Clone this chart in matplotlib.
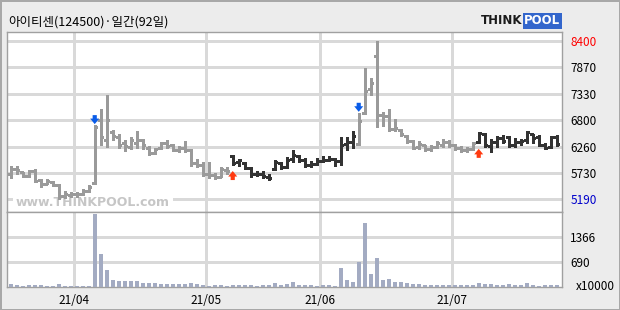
import numpy as np
import matplotlib
matplotlib.use('Agg')
import matplotlib.pyplot as plt
from matplotlib import font_manager

title = '아이티센(124500)·일간(92일)'

# daily bars (92 trading days)
high = [5860, 5860, 5750, 5780, 5800, 5610, 5610, 5570, 5500, 5360,
        5330, 5340, 5390, 5470, 6700, 7020, 7300, 6600, 6520, 6390,
        6450, 6580, 6420, 6270, 6240, 6360, 6390, 6320, 6270, 6380,
        6200, 6010, 5940, 5940, 5720, 5840, 5840, 6080, 6010, 5940,
        5840, 5770, 5770, 5710, 5990, 5940, 6040, 6180, 6090, 6025,
        5960, 6020, 6060, 6060, 6030, 6460, 6460, 6570, 6950, 7860,
        7650, 8400, 6960, 7030, 6810, 6620, 6500, 6400, 6380, 6300,
        6290, 6380, 6420, 6400, 6320, 6280, 6260, 6350, 6560, 6530,
        6410, 6480, 6490, 6480, 6430, 6410, 6580, 6510, 6490, 6340,
        6480, 6490]
low = [5620, 5700, 5640, 5650, 5540, 5440, 5490, 5460, 5190, 5220,
       5240, 5240, 5280, 5330, 5500, 6300, 6260, 6400, 6220, 6160,
       6200, 6240, 6200, 6080, 6100, 6210, 6230, 6160, 6140, 6140,
       5870, 5840, 5660, 5630, 5600, 5640, 5700, 5890, 5870, 5800,
       5640, 5660, 5630, 5580, 5780, 5800, 5820, 5940, 5940, 5850,
       5850, 5890, 5940, 5960, 5870, 5880, 6180, 6220, 6290, 6920,
       7300, 6650, 6670, 6570, 6570, 6480, 6340, 6200, 6210, 6170,
       6170, 6230, 6260, 6260, 6190, 6150, 6150, 6180, 6340, 6250,
       6140, 6250, 6330, 6260, 6260, 6290, 6330, 6340, 6280, 6210,
       6220, 6280]
open_ = [5700, 5800, 5740, 5670, 5770, 5580, 5500, 5540, 5480, 5260,
         5280, 5290, 5300, 5360, 5530, 6800, 6400, 6560, 6450, 6330,
         6260, 6330, 6390, 6240, 6120, 6220, 6330, 6290, 6180, 6230,
         6190, 5920, 5880, 5700, 5690, 5650, 5790, 6060, 5940, 5930,
         5820, 5700, 5710, 5650, 5800, 5920, 5850, 6000, 6060, 5980,
         5880, 5900, 5960, 5990, 6000, 5960, 6320, 6360, 6310, 6930,
         7420, 8100, 6900, 6880, 6620, 6600, 6480, 6380, 6260, 6290,
         6210, 6250, 6300, 6350, 6300, 6240, 6190, 6200, 6350, 6520,
         6280, 6350, 6440, 6460, 6300, 6350, 6390, 6510, 6460, 6300,
         6250, 6450]
close = [5800, 5780, 5660, 5760, 5560, 5500, 5560, 5480, 5260, 5300,
         5290, 5300, 5360, 5430, 6650, 6450, 6800, 6470, 6300, 6270,
         6390, 6390, 6300, 6120, 6200, 6340, 6280, 6180, 6230, 6190,
         5920, 5880, 5700, 5680, 5650, 5800, 5760, 5930, 5980, 5820,
         5700, 5710, 5660, 5620, 5940, 5840, 5990, 6090, 5980, 5880,
         5900, 5970, 5990, 6000, 5960, 6300, 6350, 6480, 6770, 7380,
         7550, 6900, 6880, 6620, 6630, 6520, 6380, 6240, 6320, 6200,
         6250, 6340, 6350, 6300, 6240, 6180, 6200, 6330, 6540, 6290,
         6350, 6440, 6380, 6290, 6350, 6380, 6560, 6440, 6300, 6240,
         6460, 6320]
volume = [80, 55, 30, 50, 50, 45, 35, 35, 80, 35,
          30, 30, 30, 35, 1970, 900, 470, 200, 160, 175,
          150, 170, 110, 95, 95, 75, 75, 75, 75, 75,
          115, 70, 55, 30, 60, 55, 35, 60, 60, 60,
          60, 40, 60, 65, 100, 60, 75, 125, 65, 65,
          60, 35, 55, 50, 40, 505, 180, 126, 667, 1720,
          343, 775, 180, 207, 126, 126, 100, 75, 70, 60,
          60, 60, 60, 60, 60, 60, 60, 60, 110, 90,
          90, 65, 65, 90, 65, 65, 110, 65, 40, 65,
          65, 65]

dark_ranges = [(37, 57), (78, 91)]
buy_days = [37, 78]
sell_days = [14, 58]

month_pos = [10.6, 32.6, 51.6, 73.6]
month_labels = ['21/04', '21/05', '21/06', '21/07']

price_ticks = [5190, 5725, 6260, 6795, 7330, 7865, 8400]
price_labels = ['5190', '5730', '6260', '6800', '7330', '7870', '8400']
vol_ticks = [690, 1366]


def pick_font(names):
    for n in names:
        try:
            font_manager.findfont(n, fallback_to_default=False)
            return n
        except ValueError:
            pass
    return 'DejaVu Sans'


num_font = pick_font(['Liberation Sans Narrow', 'DejaVu Sans Condensed', 'Noto Sans CJK KR'])
num_size = 9.5 if num_font != 'Noto Sans CJK KR' else 8.5
kr_font = ['Noto Sans CJK KR', 'DejaVu Sans']

W, H = 620, 310
fig = plt.figure(figsize=(W / 100, H / 100), dpi=100)
fig.patch.set_facecolor('#ececec')
fig.patch.set_edgecolor('#a8a8a8')
fig.patch.set_linewidth(2)


def box(x0, y0, x1, y1):
    return [x0 / W, 1 - y1 / H, (x1 - x0) / W, (y1 - y0) / H]


ax = fig.add_axes(box(7, 32, 562, 212))
axv = fig.add_axes(box(7, 212, 562, 287), sharex=ax)

x = np.arange(len(close))
colors = ['#333333' if any(a <= i <= b for a, b in dark_ranges) else '#9a9a9a' for i in x]

lw = 0.75
ax.vlines(x, low, high, colors=colors, lw=lw, antialiased=False, zorder=3)
ax.hlines(open_, x - 0.42, x, colors=colors, lw=lw, antialiased=False, zorder=3)
ax.hlines(close, x, x + 0.42, colors=colors, lw=lw, antialiased=False, zorder=3)

arrow = 'simple,head_width=0.65,head_length=0.4,tail_width=0.3'
for i in sell_days:
    ax.annotate('', xy=(i, high[i]), xytext=(0, 7), textcoords='offset points',
                arrowprops=dict(arrowstyle=arrow, fc='#0a5ce8', ec='none',
                                shrinkA=0, shrinkB=0.5), zorder=4)
for i in buy_days:
    ax.annotate('', xy=(i, low[i]), xytext=(0, -11), textcoords='offset points',
                arrowprops=dict(arrowstyle=arrow, fc='#ff3a10', ec='none',
                                shrinkA=0, shrinkB=4.5), zorder=4)

ax.set_xlim(-0.62, 91.88)
ax.set_ylim(4932, 8583)
ax.set_yticks(price_ticks)
ax.set_yticklabels(price_labels)
ax.yaxis.tick_right()
ax.set_xticks(month_pos)
ax.tick_params(axis='both', length=0)
ax.tick_params(axis='y', pad=6, labelsize=num_size)
ax.tick_params(axis='x', labelbottom=False)
for lab in ax.get_yticklabels():
    lab.set_fontfamily(num_font)
    if lab.get_text() == '8400':
        lab.set_color('#ff0000')
    elif lab.get_text() == '5190':
        lab.set_color('#0000cc')
ax.grid(True, color='#d9d9d9', lw=lw, antialiased=False)
ax.set_axisbelow(True)

# watermark
ax.text(0.155, 0.055, 'www.THINKPOOL.com', transform=ax.transAxes,
        ha='center', va='center', fontsize=9, fontweight='bold', color='#c6c6c6',
        bbox=dict(boxstyle='square,pad=0.25', fc='white', ec='none'), zorder=1.5)

axv.bar(x, volume, width=0.72, color='#a3abc2', zorder=3)
axv.set_ylim(0, 2030)
axv.set_yticks(vol_ticks)
axv.set_yticklabels([str(v) for v in vol_ticks])
axv.yaxis.tick_right()
axv.set_xticks(month_pos)
axv.set_xticklabels(month_labels)
axv.tick_params(axis='both', length=0)
axv.tick_params(axis='y', pad=6, labelsize=num_size)
axv.tick_params(axis='x', pad=5, labelsize=num_size)
for lab in axv.get_yticklabels() + axv.get_xticklabels():
    lab.set_fontfamily(num_font)
axv.grid(True, color='#d9d9d9', lw=lw, antialiased=False)
axv.set_axisbelow(True)
axv.text(1.025, 0.0, 'x10000', transform=axv.transAxes, ha='left', va='center',
         fontsize=num_size, family=num_font)

for a in (ax, axv):
    for s in a.spines.values():
        s.set_color('#a0a0a0')
        s.set_linewidth(1)

fig.text(8 / W, 1 - 22 / H, title, fontsize=9, family=kr_font, va='center', ha='left')

# logo
fig.text(522 / W, 1 - 21 / H, 'THINK', fontsize=8.5, fontweight='bold', color='#1a1a1a',
         ha='right', va='center')
fig.text(524 / W, 1 - 21 / H, 'POOL', fontsize=8.5, fontweight='bold', color='white',
         ha='left', va='center',
         bbox=dict(boxstyle='square,pad=0.12', fc='#3366cc', ec='none'))

fig.savefig('out.png', dpi=100, facecolor=fig.get_facecolor(), edgecolor=fig.get_edgecolor())
